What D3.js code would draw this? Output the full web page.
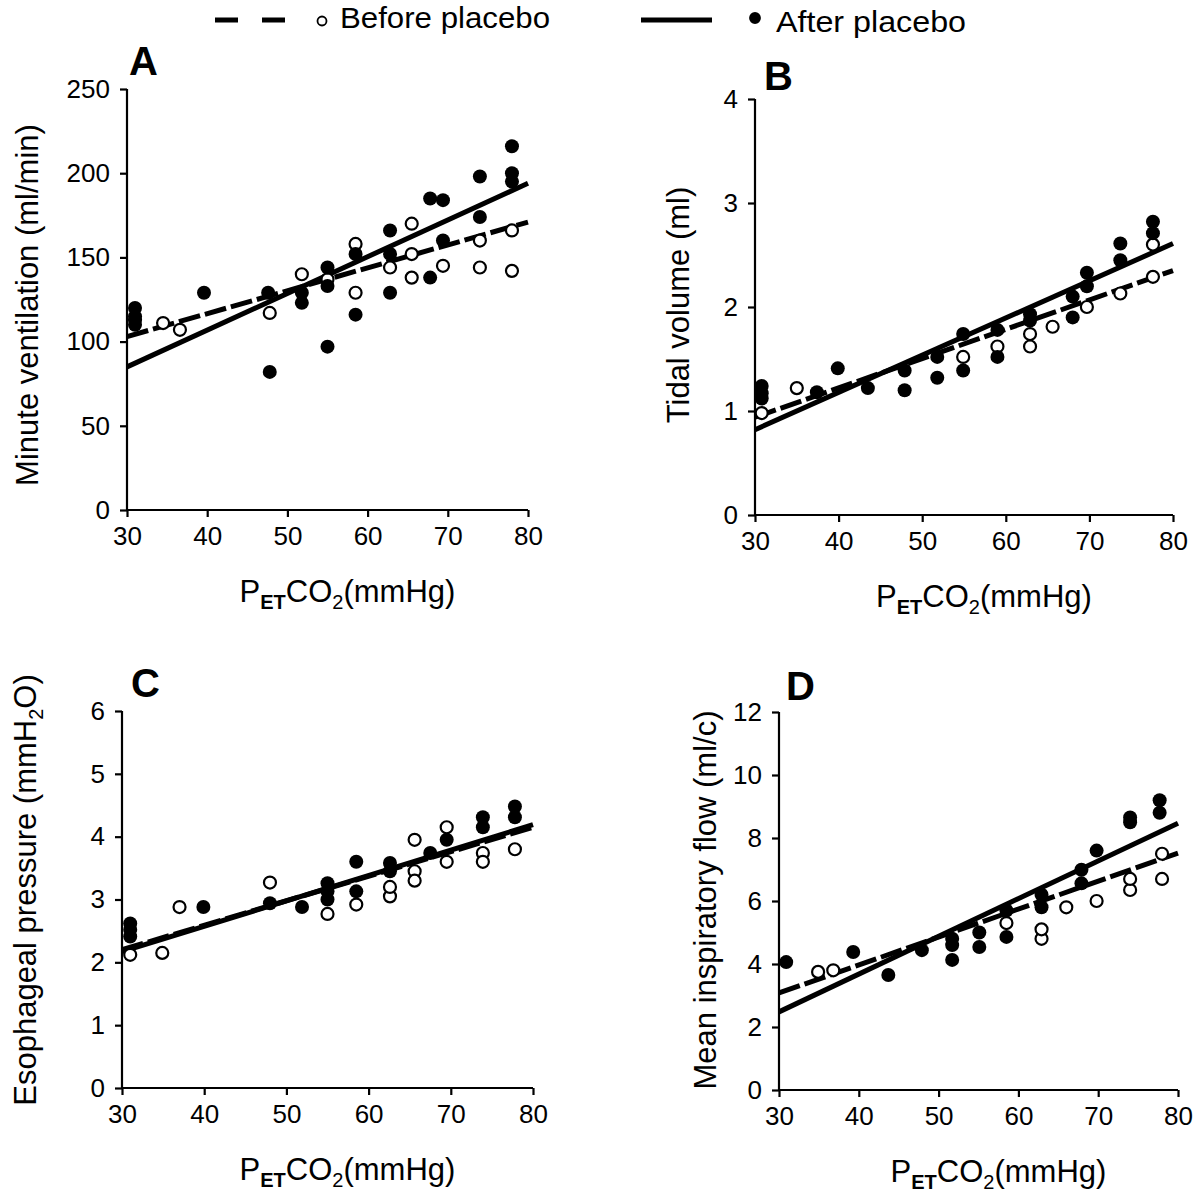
<!DOCTYPE html>
<html><head><meta charset="utf-8">
<script src="https://cdn.jsdelivr.net/npm/d3@7"></script>
<style>
html,body{margin:0;padding:0;background:#fff;}
svg text{font-family:"Liberation Sans", Arial, sans-serif;fill:#000;}
</style></head>
<body>
<svg id="chart" width="1200" height="1198"></svg>
<script>
// ---- data ----
const xTicks = [30, 40, 50, 60, 70, 80];
const yTicksA = [0, 50, 100, 150, 200, 250];
const yTicksB = [0, 1, 2, 3, 4];
const yTicksC = [0, 1, 2, 3, 4, 5, 6];
const yTicksD = [0, 2, 4, 6, 8, 10, 12];

// Panel A: minute ventilation (ml/min)
const aBefore = [[31,113],[34.5,111],[36.6,107],[47.8,117],[51.8,140],[55,137],[58.5,158],[58.5,129],[62.8,144],[65.5,170],[65.5,138],[65.5,152],[69.4,145],[74,160],[74,144],[78,142],[78,166]];
const aAfter = [[31,120],[31,115],[31,110],[39.6,129],[47.8,82],[47.6,129],[51.8,129],[51.8,123],[55,97],[55,144],[55,133],[58.5,116],[58.5,152],[62.8,129],[62.8,166],[62.8,152],[67.8,138],[67.8,185],[69.4,184],[69.4,160],[74,198],[74,174],[78,216],[78,200],[78,195]];
const aBeforeFit = [[30,103],[80,171]];
const aAfterFit = [[30,85],[80,194]];

// Panel B: tidal volume (ml)
const bBefore = [[30.8,0.98],[35,1.22],[54.9,1.52],[59,1.62],[62.9,1.62],[62.9,1.74],[65.6,1.81],[69.7,2.0],[73.7,2.13],[77.6,2.29],[77.6,2.6]];
const bAfter = [[30.8,1.17],[30.8,1.12],[30.8,1.24],[37.4,1.18],[39.9,1.41],[43.5,1.22],[47.9,1.20],[47.9,1.39],[51.8,1.32],[51.8,1.52],[54.9,1.39],[54.9,1.74],[59,1.52],[59,1.78],[62.9,1.87],[62.9,1.93],[68,1.90],[68,2.1],[69.7,2.33],[69.7,2.2],[73.7,2.61],[73.7,2.45],[77.6,2.82],[77.6,2.71]];
const bBeforeFit = [[30,0.94],[80,2.35]];
const bAfterFit = [[30,0.82],[80,2.61]];

// Panel C: esophageal pressure (mmH2O)
const cBefore = [[31,2.12],[34.9,2.15],[37,2.88],[48,3.27],[55,2.77],[58.5,2.92],[62.6,3.05],[62.6,3.2],[65.6,3.95],[65.6,3.45],[65.6,3.3],[69.5,4.15],[69.5,3.6],[73.9,3.74],[73.9,3.6],[77.8,3.8]];
const cAfter = [[31,2.52],[31,2.62],[31,2.41],[39.9,2.88],[48,2.94],[51.9,2.88],[55,3.26],[55,3.13],[55,3.0],[58.5,3.6],[58.5,3.13],[62.6,3.58],[62.6,3.45],[67.5,3.74],[69.5,3.95],[73.9,4.31],[73.9,4.15],[77.8,4.48],[77.8,4.31]];
const cBeforeFit = [[30,2.2],[80,4.15]];
const cAfterFit = [[30,2.17],[80,4.19]];

// Panel D: mean inspiratory flow (ml/c)
const dBefore = [[34.9,3.75],[36.8,3.8],[58.5,5.3],[62.9,4.8],[62.9,5.1],[66,5.8],[69.8,6.0],[74,6.35],[74,6.7],[78,6.7],[78,7.5]];
const dAfter = [[30.9,4.06],[39.3,4.38],[43.7,3.65],[47.9,4.44],[51.7,4.13],[51.7,4.6],[51.7,4.8],[55.1,4.54],[55.1,5.0],[58.5,4.86],[58.5,5.7],[62.9,5.8],[62.9,6.2],[67.9,6.56],[67.9,6.99],[69.8,7.6],[74,8.5],[74,8.65],[77.7,9.2],[77.7,8.8]];
const dBeforeFit = [[30,3.08],[80,7.52]];
const dAfterFit = [[30,2.48],[80,8.47]];

const legendLabels = ["Before placebo", "After placebo"];

// ---- drawing ----
const svg = d3.select("#chart");

const panels = [
  {letter:"A", before:aBefore, after:aAfter, bFit:aBeforeFit, aFit:aAfterFit, yDom:[0,250], yTicks:yTicksA,
   xr:[127,528], yr:[510,89], letterPos:[129,75], ylab:["Minute ventilation (ml/min)"], ylabPos:[38,305]},
  {letter:"B", before:bBefore, after:bAfter, bFit:bBeforeFit, aFit:bAfterFit, yDom:[0,4], yTicks:yTicksB,
   xr:[755,1173], yr:[515,99], letterPos:[764,90], ylab:["Tidal volume (ml)"], ylabPos:[689,305]},
  {letter:"C", before:cBefore, after:cAfter, bFit:cBeforeFit, aFit:cAfterFit, yDom:[0,6], yTicks:yTicksC,
   xr:[122,533], yr:[1088,711], letterPos:[131,697], ylab:["Esophageal pressure (mmH","2","O)"], ylabPos:[36,890]},
  {letter:"D", before:dBefore, after:dAfter, bFit:dBeforeFit, aFit:dAfterFit, yDom:[0,12], yTicks:yTicksD,
   xr:[779,1178], yr:[1090,712], letterPos:[786,700], ylab:["Mean inspiratory flow (ml/c)"], ylabPos:[716,900]}
];

panels.forEach(p => {
  const x = d3.scaleLinear().domain([30,80]).range(p.xr);
  const y = d3.scaleLinear().domain(p.yDom).range(p.yr);
  const g = svg.append("g");

  const xAxis = g.append("g").attr("transform", `translate(0,${p.yr[0]})`)
    .call(d3.axisBottom(x).tickValues(xTicks).tickSize(7).tickPadding(10).tickFormat(d3.format("d")));
  const yAxis = g.append("g").attr("transform", `translate(${p.xr[0]},0)`)
    .call(d3.axisLeft(y).tickValues(p.yTicks).tickSize(7).tickPadding(10).tickFormat(d3.format("d")));
  [xAxis, yAxis].forEach(a => {
    a.select(".domain").attr("stroke","#000").attr("stroke-width",2.2);
    a.selectAll(".tick line").attr("stroke","#000").attr("stroke-width",2.2);
    a.selectAll(".tick text").style("font-size","26px").style("font-family","'Liberation Sans', Arial, sans-serif").attr("fill","#000");
  });
  xAxis.select(".domain").attr("d", `M${p.xr[0]},0H${p.xr[1]}`);
  yAxis.select(".domain").attr("d", `M0,${p.yr[0]}V${p.yr[1]}`);

  const line = d3.line().x(d => x(d[0])).y(d => y(d[1]));
  g.append("path").datum(p.bFit).attr("d", line).attr("fill","none")
    .attr("stroke","#000").attr("stroke-width",5).attr("stroke-dasharray","22,5");
  g.append("path").datum(p.aFit).attr("d", line).attr("fill","none")
    .attr("stroke","#000").attr("stroke-width",5);

  g.selectAll(".pb").data(p.before).join("circle")
    .attr("cx", d => x(d[0])).attr("cy", d => y(d[1])).attr("r", 6)
    .attr("fill","#fff").attr("stroke","#000").attr("stroke-width",2.2);
  g.selectAll(".pa").data(p.after).join("circle")
    .attr("cx", d => x(d[0])).attr("cy", d => y(d[1])).attr("r", 7)
    .attr("fill","#000");

  g.append("text").attr("x", p.letterPos[0]).attr("y", p.letterPos[1])
    .style("font-size","40px").style("font-weight","bold").text(p.letter);

  const xc = (p.xr[0]+p.xr[1])/2 + 20;
  const xt = g.append("text").attr("x", xc).attr("y", p.yr[0]+92)
    .attr("text-anchor","middle").style("font-size","31px");
  xt.append("tspan").text("P");
  xt.append("tspan").attr("dy",7).style("font-size","20px").style("font-weight","bold").text("ET");
  xt.append("tspan").attr("dy",-7).text("CO");
  xt.append("tspan").attr("dy",7).style("font-size","20px").text("2");
  xt.append("tspan").attr("dy",-7).text("(mmHg)");

  const yt = g.append("text").attr("transform", `translate(${p.ylabPos[0]},${p.ylabPos[1]}) rotate(-90)`)
    .attr("text-anchor","middle").style("font-size","31px");
  if (p.ylab.length === 1) {
    yt.text(p.ylab[0]);
  } else {
    yt.append("tspan").text(p.ylab[0]);
    yt.append("tspan").attr("dy",7).style("font-size","20px").text(p.ylab[1]);
    yt.append("tspan").attr("dy",-7).text(p.ylab[2]);
  }
});

// ---- legend ----
const leg = svg.append("g");
const legendItems = [
  {label:legendLabels[0], dash:"23,24", x1:215, x2:285, mx:322, filled:false, tx:340, ty:28, w:210},
  {label:legendLabels[1], dash:null, x1:641, x2:712, mx:755, filled:true, tx:776, ty:32, w:190}
];
legendItems.forEach(it => {
  leg.append("line").attr("x1",it.x1).attr("x2",it.x2).attr("y1",20).attr("y2",20)
    .attr("stroke","#000").attr("stroke-width",5).attr("stroke-dasharray", it.dash);
  leg.append("circle").attr("cx",it.mx).attr("cy",it.filled?18:21).attr("r",it.filled?5:4.5)
    .attr("fill", it.filled?"#000":"#fff").attr("stroke","#000").attr("stroke-width",1.8);
  leg.append("text").attr("x",it.tx).attr("y",it.ty).style("font-size","29px")
    .attr("textLength", it.w).attr("lengthAdjust","spacingAndGlyphs").text(it.label);
});
</script>
</body></html>
